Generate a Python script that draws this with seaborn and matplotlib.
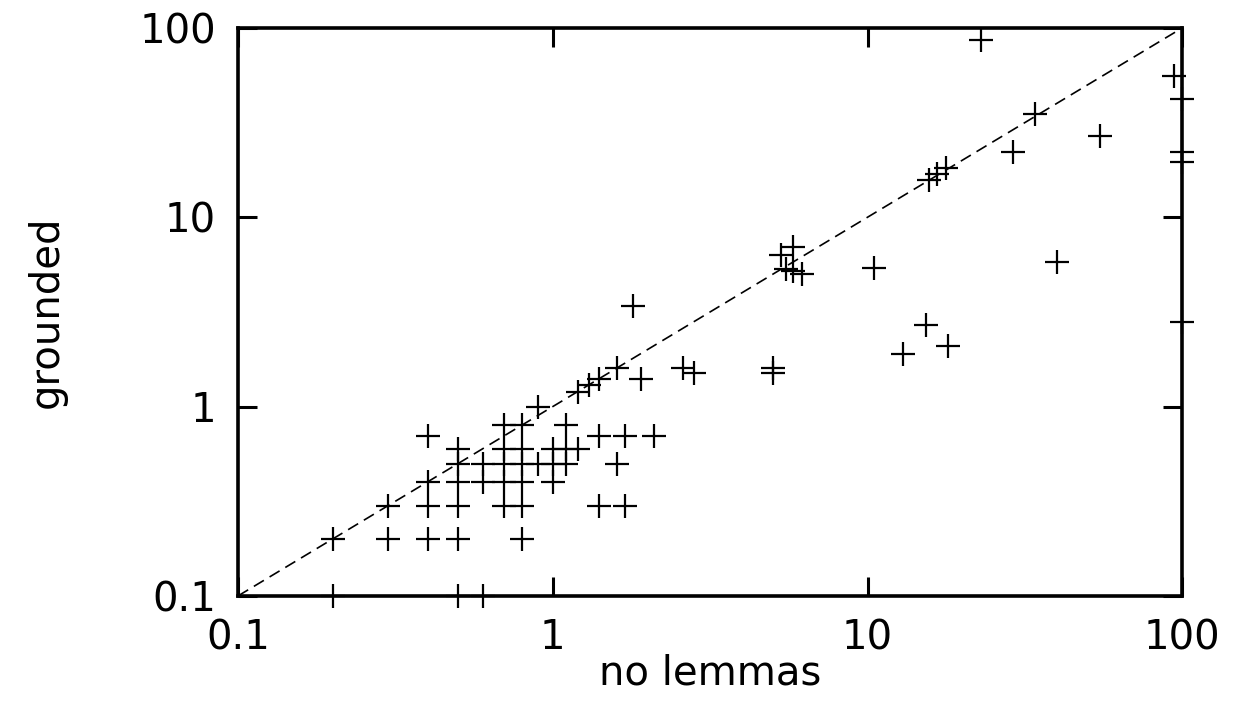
import matplotlib
matplotlib.use("Agg")
import matplotlib.pyplot as plt
import seaborn as sns
import pandas as pd

# runtimes (seconds): without lemmas vs. grounded
no_lemmas = [
    0.2, 0.5, 0.6,
    0.2, 0.3, 0.4, 0.5, 0.8,
    0.3, 0.4, 0.5, 0.7, 0.8, 1.4, 1.7,
    0.4, 0.5, 0.6, 0.7, 0.8, 1.0,
    0.5, 0.6, 0.7, 0.8, 0.9, 1.0, 1.1, 1.6,
    0.5, 0.7, 0.8, 1.0, 1.1, 1.2,
    0.4, 1.4, 1.7, 2.1,
    0.7, 0.8, 1.1,
    0.9, 1.2, 1.3, 1.4, 1.6, 1.9, 1.8, 2.6, 2.8, 5.0, 5.0,
    5.3, 5.8, 5.5, 5.8, 6.2, 10.5, 13, 15.3, 18,
    15.7, 16.6, 17.7, 29, 34, 40, 55, 23, 94,
    100, 100, 100, 100,
]
grounded = [
    0.1, 0.1, 0.1,
    0.2, 0.2, 0.2, 0.2, 0.2,
    0.3, 0.3, 0.3, 0.3, 0.3, 0.3, 0.3,
    0.4, 0.4, 0.4, 0.4, 0.4, 0.4,
    0.5, 0.5, 0.5, 0.5, 0.5, 0.5, 0.5, 0.5,
    0.6, 0.6, 0.6, 0.6, 0.6, 0.6,
    0.7, 0.7, 0.7, 0.7,
    0.8, 0.8, 0.8,
    1.0, 1.2, 1.3, 1.4, 1.6, 1.4, 3.4, 1.6, 1.5, 1.6, 1.5,
    6.3, 7.0, 5.3, 5.2, 5.0, 5.4, 1.9, 2.7, 2.1,
    15.8, 17, 18.2, 22, 35, 5.8, 27, 86, 56,
    42, 22, 19.5, 2.8,
]
ticks = [0.1, 1, 10, 100]
tick_labels = ["0.1", "1", "10", "100"]

df = pd.DataFrame({"no lemmas": no_lemmas, "grounded": grounded})

sns.set_style("white")
plt.rcParams["font.family"] = ["DejaVu Sans"]
plt.rcParams["text.color"] = "black"
plt.rcParams["axes.labelcolor"] = "black"
plt.rcParams["xtick.color"] = "black"
plt.rcParams["ytick.color"] = "black"

fig = plt.figure(figsize=(12.34, 7.17), dpi=100)
ax = fig.add_axes([0.193, 0.169, 0.765, 0.792])

# diagonal reference
ax.plot([0.1, 100], [0.1, 100], color="black", lw=1.2, ls=(0, (7, 4)), zorder=1)

sns.scatterplot(data=df, x="no lemmas", y="grounded", marker="+", s=280,
                color="black", linewidth=1.6, ax=ax, clip_on=False, zorder=3)

ax.set_xscale("log")
ax.set_yscale("log")
ax.set_xlim(0.1, 100)
ax.set_ylim(0.1, 100)
ax.set_xticks(ticks)
ax.set_xticklabels(tick_labels)
ax.set_yticks(ticks)
ax.set_yticklabels(tick_labels)
ax.minorticks_off()

ax.tick_params(which="major", direction="in", length=14, width=2.2,
               bottom=True, left=True, top=True, right=True,
               labelsize=29, pad=16, color="black", labelcolor="black")
for s in ax.spines.values():
    s.set_linewidth(2.6)
    s.set_color("black")

ax.set_xlabel("no lemmas", fontsize=29, labelpad=-3, color="black")
ax.set_ylabel("grounded", fontsize=29, labelpad=52, color="black")

fig.savefig("out.png", dpi=100)
